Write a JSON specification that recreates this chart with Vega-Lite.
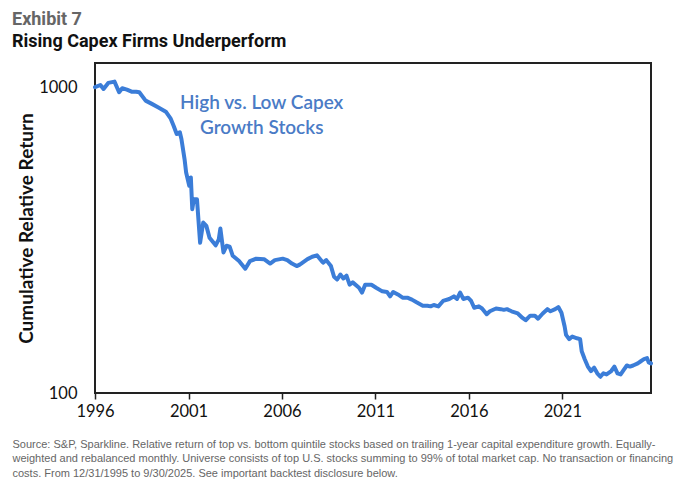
{
  "$schema": "https://vega.github.io/schema/vega-lite/v6.json",
  "autosize": {"type": "none"},
  "padding": {"left": 95, "top": 63, "right": 49, "bottom": 94},
  "width": 556,
  "height": 330,
  "background": "white",
  "config": {
    "view": {"stroke": "#222222", "strokeWidth": 2},
    "font": "Lato"
  },
  "title": {
    "text": "Exhibit 7",
    "subtitle": "Rising Capex Firms Underperform",
    "anchor": "start",
    "frame": "group",
    "dx": -83,
    "offset": 12,
    "font": "Roboto",
    "fontSize": 18,
    "fontWeight": "bold",
    "color": "#666666",
    "subtitleFont": "Roboto",
    "subtitleFontSize": 18,
    "subtitleFontWeight": "bold",
    "subtitleColor": "#111111",
    "subtitlePadding": 4
  },
  "layer": [
    {
      "data": {
        "values": [
          {"date": "1995-12-31", "value": 1000},
          {"date": "1996-04-15", "value": 1017},
          {"date": "1996-06-15", "value": 987},
          {"date": "1996-09-15", "value": 1033},
          {"date": "1997-01-15", "value": 1043},
          {"date": "1997-04-15", "value": 963},
          {"date": "1997-06-15", "value": 992},
          {"date": "1997-09-15", "value": 982},
          {"date": "1997-12-15", "value": 967},
          {"date": "1998-03-15", "value": 967},
          {"date": "1998-05-15", "value": 963},
          {"date": "1998-09-15", "value": 904},
          {"date": "1999-01-15", "value": 882},
          {"date": "1999-05-15", "value": 860},
          {"date": "1999-10-15", "value": 832},
          {"date": "2000-01-15", "value": 791},
          {"date": "2000-03-15", "value": 748},
          {"date": "2000-05-15", "value": 703},
          {"date": "2000-07-15", "value": 712},
          {"date": "2000-08-15", "value": 677},
          {"date": "2000-10-15", "value": 582},
          {"date": "2000-11-15", "value": 526},
          {"date": "2001-01-15", "value": 476},
          {"date": "2001-02-15", "value": 507},
          {"date": "2001-03-15", "value": 399},
          {"date": "2001-04-15", "value": 430},
          {"date": "2001-06-15", "value": 430},
          {"date": "2001-08-15", "value": 310},
          {"date": "2001-10-15", "value": 361},
          {"date": "2001-12-15", "value": 352},
          {"date": "2002-02-15", "value": 322},
          {"date": "2002-06-15", "value": 304},
          {"date": "2002-08-15", "value": 318},
          {"date": "2002-09-15", "value": 345},
          {"date": "2002-11-15", "value": 288},
          {"date": "2003-01-15", "value": 303},
          {"date": "2003-03-15", "value": 301},
          {"date": "2003-05-15", "value": 281},
          {"date": "2003-09-15", "value": 270},
          {"date": "2004-01-15", "value": 255},
          {"date": "2004-04-15", "value": 270},
          {"date": "2004-08-15", "value": 275},
          {"date": "2005-01-15", "value": 274},
          {"date": "2005-05-15", "value": 265},
          {"date": "2005-08-15", "value": 272},
          {"date": "2006-01-15", "value": 275},
          {"date": "2006-04-15", "value": 272},
          {"date": "2006-07-15", "value": 265},
          {"date": "2006-10-15", "value": 260},
          {"date": "2006-12-15", "value": 263},
          {"date": "2007-05-15", "value": 274},
          {"date": "2007-08-15", "value": 279},
          {"date": "2007-11-15", "value": 282},
          {"date": "2008-02-15", "value": 270},
          {"date": "2008-03-15", "value": 267},
          {"date": "2008-05-15", "value": 272},
          {"date": "2008-08-15", "value": 260},
          {"date": "2008-10-15", "value": 240},
          {"date": "2008-12-15", "value": 235},
          {"date": "2009-02-15", "value": 244},
          {"date": "2009-04-15", "value": 237},
          {"date": "2009-06-15", "value": 242},
          {"date": "2009-08-15", "value": 226},
          {"date": "2009-10-15", "value": 230},
          {"date": "2010-02-15", "value": 221},
          {"date": "2010-04-15", "value": 213},
          {"date": "2010-06-15", "value": 226},
          {"date": "2010-07-15", "value": 226},
          {"date": "2010-10-15", "value": 226},
          {"date": "2011-01-15", "value": 221},
          {"date": "2011-05-15", "value": 215},
          {"date": "2011-08-15", "value": 214},
          {"date": "2011-10-15", "value": 207},
          {"date": "2011-12-15", "value": 214},
          {"date": "2012-03-15", "value": 210},
          {"date": "2012-06-15", "value": 205},
          {"date": "2012-09-15", "value": 205},
          {"date": "2012-12-15", "value": 202},
          {"date": "2013-03-15", "value": 198},
          {"date": "2013-07-15", "value": 193},
          {"date": "2013-10-15", "value": 193},
          {"date": "2013-12-15", "value": 192},
          {"date": "2014-02-15", "value": 194},
          {"date": "2014-05-15", "value": 192},
          {"date": "2014-08-15", "value": 200},
          {"date": "2014-12-15", "value": 203},
          {"date": "2015-03-15", "value": 207},
          {"date": "2015-05-15", "value": 203},
          {"date": "2015-07-15", "value": 213},
          {"date": "2015-09-15", "value": 203},
          {"date": "2015-12-15", "value": 205},
          {"date": "2016-02-15", "value": 200},
          {"date": "2016-04-15", "value": 190},
          {"date": "2016-07-15", "value": 192},
          {"date": "2016-09-15", "value": 189},
          {"date": "2016-12-15", "value": 181},
          {"date": "2017-02-15", "value": 185},
          {"date": "2017-06-15", "value": 189},
          {"date": "2017-09-15", "value": 188},
          {"date": "2017-11-15", "value": 187},
          {"date": "2018-01-15", "value": 188},
          {"date": "2018-04-15", "value": 185},
          {"date": "2018-08-15", "value": 182},
          {"date": "2018-11-15", "value": 176},
          {"date": "2019-01-15", "value": 173},
          {"date": "2019-04-15", "value": 179},
          {"date": "2019-07-15", "value": 179},
          {"date": "2019-09-15", "value": 175},
          {"date": "2019-12-15", "value": 182},
          {"date": "2020-03-15", "value": 188},
          {"date": "2020-05-15", "value": 185},
          {"date": "2020-08-15", "value": 188},
          {"date": "2020-10-15", "value": 191},
          {"date": "2020-12-15", "value": 183},
          {"date": "2021-02-15", "value": 165},
          {"date": "2021-03-15", "value": 155},
          {"date": "2021-05-15", "value": 150},
          {"date": "2021-07-15", "value": 153},
          {"date": "2021-10-15", "value": 151},
          {"date": "2021-12-15", "value": 150},
          {"date": "2022-01-15", "value": 137},
          {"date": "2022-03-15", "value": 129},
          {"date": "2022-05-15", "value": 122},
          {"date": "2022-07-15", "value": 118},
          {"date": "2022-09-15", "value": 121},
          {"date": "2022-11-15", "value": 116},
          {"date": "2023-01-15", "value": 113},
          {"date": "2023-03-15", "value": 116},
          {"date": "2023-05-15", "value": 115},
          {"date": "2023-08-15", "value": 118},
          {"date": "2023-10-15", "value": 122},
          {"date": "2023-12-15", "value": 116},
          {"date": "2024-02-15", "value": 115},
          {"date": "2024-04-15", "value": 119},
          {"date": "2024-06-15", "value": 123},
          {"date": "2024-08-15", "value": 122},
          {"date": "2024-10-15", "value": 123},
          {"date": "2025-01-15", "value": 125},
          {"date": "2025-03-15", "value": 127},
          {"date": "2025-05-15", "value": 129},
          {"date": "2025-07-15", "value": 130},
          {"date": "2025-08-15", "value": 126},
          {"date": "2025-09-30", "value": 125}
        ]
      },
      "mark": {"type": "line", "color": "#3b7dd8", "strokeWidth": 4, "strokeJoin": "round", "strokeCap": "round"},
      "encoding": {
        "x": {
          "field": "date",
          "type": "temporal",
          "scale": {
            "type": "utc",
            "domain": [
              {"year": 1995, "month": 12, "date": 31, "utc": true},
              {"year": 2025, "month": 9, "date": 30, "utc": true}
            ],
            "nice": false
          },
          "axis": {
            "values": [
              {"year": 1996, "utc": true},
              {"year": 2001, "utc": true},
              {"year": 2006, "utc": true},
              {"year": 2011, "utc": true},
              {"year": 2016, "utc": true},
              {"year": 2021, "utc": true}
            ],
            "format": "%Y",
            "grid": false,
            "domain": false,
            "ticks": true,
            "tickSize": 6,
            "tickColor": "#222222",
            "tickWidth": 1.5,
            "labelPadding": 4,
            "labelFont": "Lato",
            "labelFontSize": 16.5,
            "labelColor": "#111111",
            "labelFlush": false,
            "title": [
              "Source: S&P, Sparkline. Relative return of top vs. bottom quintile stocks based on trailing 1-year capital expenditure growth. Equally-",
              "weighted and rebalanced monthly. Universe consists of top U.S. stocks summing to 99% of total market cap. No transaction or financing",
              "costs. From 12/31/1995 to 9/30/2025. See important backtest disclosure below."
            ],
            "titleFont": "Liberation Sans",
            "titleFontSize": 11,
            "titleFontWeight": "normal",
            "titleColor": "#666666",
            "titleAnchor": "start",
            "titleAlign": "left",
            "titleBaseline": "top",
            "titleX": -83,
            "titleY": 45,
            "titleLineHeight": 14.5
          }
        },
        "y": {
          "field": "value",
          "type": "quantitative",
          "scale": {"type": "log", "domain": [100, 1200], "nice": false},
          "axis": {
            "values": [100, 1000],
            "format": "d",
            "grid": false,
            "domain": false,
            "ticks": false,
            "labelPadding": 18,
            "labelFont": "Lato",
            "labelFontSize": 16.5,
            "labelColor": "#111111",
            "labelFlush": false,
            "title": "Cumulative Relative Return",
            "titleFont": "Lato",
            "titleFontSize": 19,
            "titleFontWeight": "bold",
            "titleColor": "#111111",
            "titlePadding": 2
          }
        }
      }
    },
    {
      "data": {"values": [{"label": "annotation"}]},
      "mark": {
        "type": "text",
        "text": ["High vs. Low Capex", "Growth Stocks"],
        "font": "Lato",
        "fontSize": 19,
        "fontWeight": 600,
        "color": "#4a7bc6",
        "align": "center",
        "baseline": "middle",
        "lineHeight": 25
      },
      "encoding": {
        "x": {"datum": {"year": 2004, "month": 12, "date": 1, "utc": true}, "type": "temporal"},
        "y": {"datum": 885, "type": "quantitative"}
      }
    }
  ]
}
